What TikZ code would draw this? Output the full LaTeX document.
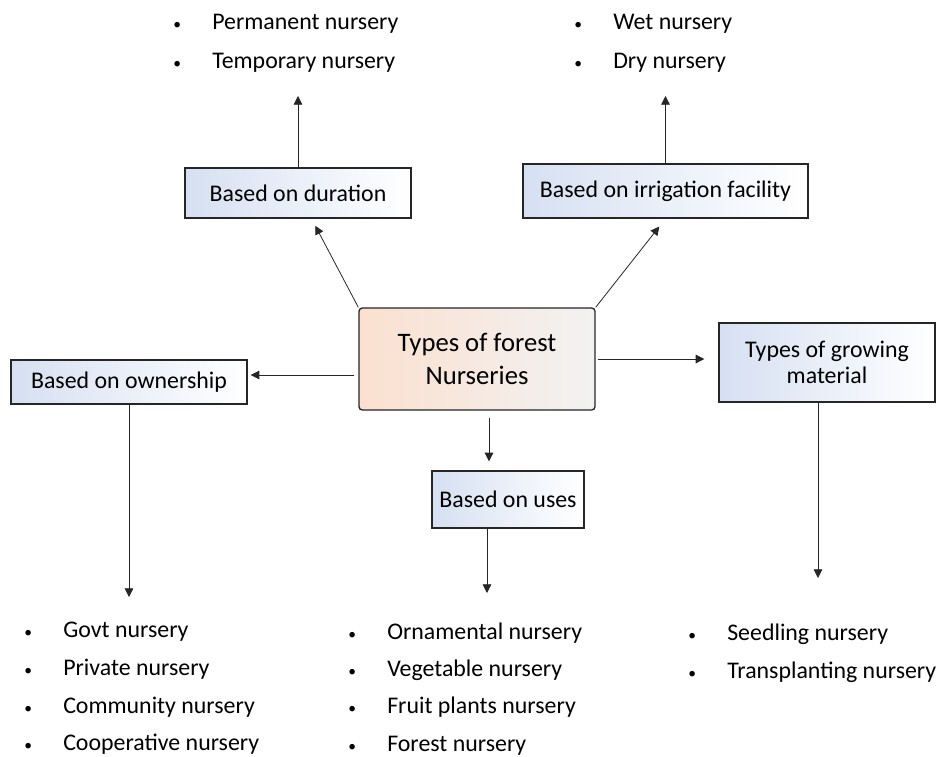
\documentclass[tikz,border=0pt]{standalone}
\usepackage{fontspec}
\setmainfont{Carlito}
\usetikzlibrary{arrows.meta}

\definecolor{boxblue}{RGB}{214,224,242}
\definecolor{boxpeach}{RGB}{251,224,208}
\definecolor{boxgray}{RGB}{242,242,242}

\tikzset{
	catbox/.style={draw=black!85, line width=1pt, left color=boxblue, right color=white,
		inner sep=0pt, align=center, font=\fontsize{17.9}{19.5}\selectfont},
	mainbox/.style={draw=black!85, line width=1pt, left color=boxpeach, right color=boxgray,
		rounded corners=2.5pt, inner sep=0pt, align=center, font=\fontsize{20}{24.75}\selectfont},
	item/.style={anchor=base west, inner sep=0pt, font=\fontsize{17.9}{21}\selectfont},
	arr/.style={-{Triangle[length=6.5pt,width=6.5pt]}, line width=0.6pt, black!85}
}
\newcommand{\bul}[1]{\makebox[0pt]{\scalebox{0.65}{\textbullet}}\hspace{26.25pt}#1}

\begin{document}
\begin{tikzpicture}[x=0.75pt,y=-0.75pt]
	\useasboundingbox (0,0) rectangle (941,756);

	% boxes
	\node[mainbox, minimum width=177pt, minimum height=76.5pt] (cen) at (477,359) {Types of forest\\Nurseries};
	\node[catbox, minimum width=169.5pt, minimum height=37.5pt] (dur) at (298,193) {Based on duration};
	\node[catbox, minimum width=213.75pt, minimum height=40.5pt] (irr) at (665.5,191) {Based on irrigation facility};
	\node[catbox, minimum width=177pt, minimum height=33pt] (own) at (129,382) {Based on ownership};
	\node[catbox, minimum width=162pt, minimum height=59.25pt] (grow) at (827,362.5) {Types of growing\\material};
	\node[catbox, minimum width=114pt, minimum height=42.75pt] (uses) at (508,499.5) {Based on uses};

	% lists
	\node[item] (dur1) at (177,30) {\bul{Permanent nursery}};
	\node[item] (dur2) at (177,69) {\bul{Temporary nursery}};
	\node[item] (irr1) at (578,30) {\bul{Wet nursery}};
	\node[item] (irr2) at (578,69) {\bul{Dry nursery}};

	\node[item] (own1) at (28,637) {\bul{Govt nursery}};
	\node[item] (own2) at (28,675) {\bul{Private nursery}};
	\node[item] (own3) at (28,713) {\bul{Community nursery}};
	\node[item] (own4) at (28,750) {\bul{Cooperative nursery}};

	\node[item] (use1) at (352,639) {\bul{Ornamental nursery}};
	\node[item] (use2) at (352,676) {\bul{Vegetable nursery}};
	\node[item] (use3) at (352,713) {\bul{Fruit plants nursery}};
	\node[item] (use4) at (352,751) {\bul{Forest nursery}};

	\node[item] (grow1) at (692,640) {\bul{Seedling nursery}};
	\node[item] (grow2) at (692,678) {\bul{Transplanting nursery}};

	% arrow tips
	\coordinate (durtip) at (298,96);
	\coordinate (irrtip) at (665.5,96);
	\coordinate (owntip) at (129,597);
	\coordinate (usetip) at (487,593);
	\coordinate (growtip) at (818,578);

	\draw[arr, shorten >=6pt] (cen.north west) -- (dur);
	\draw[arr, shorten >=7.5pt] (cen.north east) -- (irr.south);
	\draw[arr, shorten <=3pt, shorten >=2.25pt] ([yshift=-12pt]cen.west) -- ([yshift=-12pt]cen.west -| own.east);
	\draw[arr, shorten <=1.5pt, shorten >=10.5pt] (cen.east) -- (cen.east -| grow.west);
	\draw[arr, shorten <=5.25pt, shorten >=6.75pt] ([xshift=9pt]cen.south) -- ([xshift=9pt]cen.south |- uses.north);

	\draw[arr] (dur) -- (durtip);
	\draw[arr] (irr) -- (irrtip);
	\draw[arr] (own) -- (owntip);
	\draw[arr] (uses.south -| usetip) -- (usetip);
	\draw[arr] (grow.south -| growtip) -- (growtip);
\end{tikzpicture}
\end{document}
